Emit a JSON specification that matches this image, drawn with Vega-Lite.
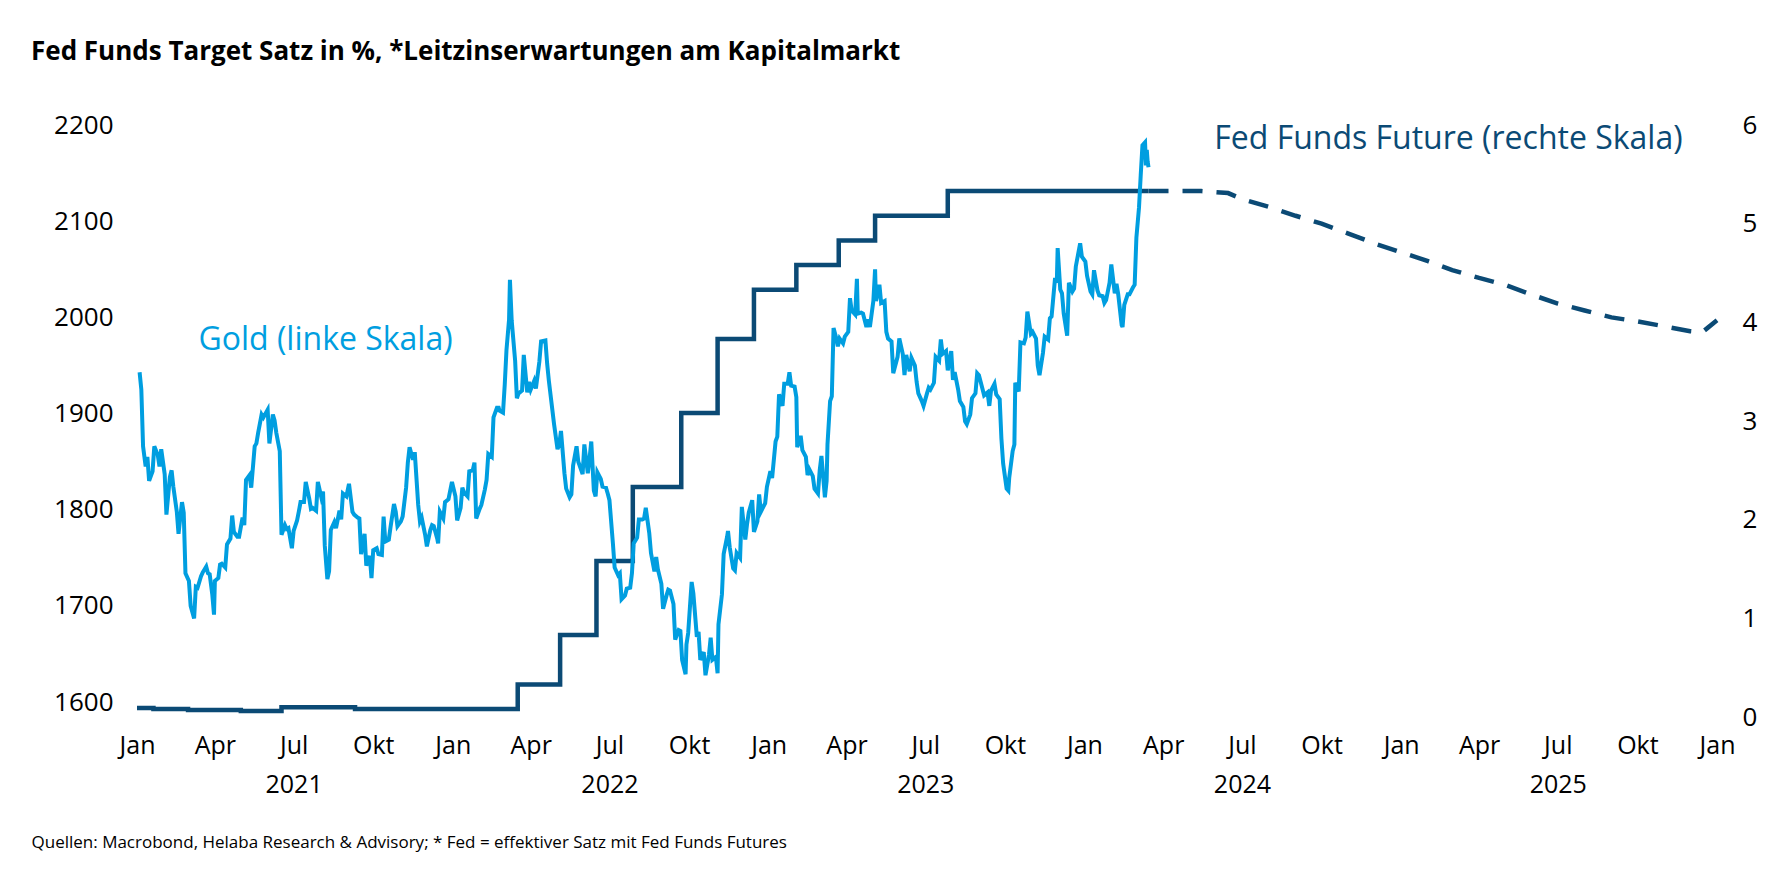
{
"$schema": "https://vega.github.io/schema/vega-lite/v6.json",
"width": 1580, "height": 592,
"autosize": {"type": "none"},
"padding": {"left": 137, "top": 125, "right": 65, "bottom": 152},
"background": "white",
"config": {"view": {"stroke": null}, "font": "Open Sans"},
"title": {"text": "Fed Funds Target Satz in %, *Leitzinserwartungen am Kapitalmarkt", "anchor": "start", "frame": "group", "dx": -106, "offset": 26, "baseline": "alphabetic", "fontSize": 26, "fontWeight": "bold", "color": "#000000", "font": "Open Sans"},
"datasets": {
"gold": [
{"date":"2021-01-04","value":1943},{"date":"2021-01-06","value":1925},{"date":"2021-01-08","value":1866},{"date":"2021-01-11","value":1845},{"date":"2021-01-13","value":1855},{"date":"2021-01-15","value":1830},{"date":"2021-01-19","value":1840},{"date":"2021-01-21","value":1866},{"date":"2021-01-25","value":1857},{"date":"2021-01-27","value":1845},{"date":"2021-01-29","value":1863},{"date":"2021-02-02","value":1837},{"date":"2021-02-04","value":1795},{"date":"2021-02-08","value":1834},{"date":"2021-02-10","value":1841},{"date":"2021-02-12","value":1824},{"date":"2021-02-16","value":1798},{"date":"2021-02-18","value":1775},{"date":"2021-02-22","value":1808},{"date":"2021-02-24","value":1797},{"date":"2021-02-26","value":1734},{"date":"2021-03-02","value":1726},{"date":"2021-03-04","value":1700},{"date":"2021-03-08","value":1687},{"date":"2021-03-10","value":1720},{"date":"2021-03-12","value":1719},{"date":"2021-03-16","value":1731},{"date":"2021-03-18","value":1735},{"date":"2021-03-22","value":1741},{"date":"2021-03-24","value":1734},{"date":"2021-03-26","value":1733},{"date":"2021-03-29","value":1712},{"date":"2021-03-31","value":1691},{"date":"2021-04-01","value":1726},{"date":"2021-04-05","value":1729},{"date":"2021-04-07","value":1743},{"date":"2021-04-09","value":1744},{"date":"2021-04-13","value":1740},{"date":"2021-04-15","value":1764},{"date":"2021-04-19","value":1770},{"date":"2021-04-21","value":1794},{"date":"2021-04-23","value":1777},{"date":"2021-04-27","value":1772},{"date":"2021-04-29","value":1772},{"date":"2021-05-03","value":1792},{"date":"2021-05-05","value":1784},{"date":"2021-05-07","value":1831},{"date":"2021-05-11","value":1836},{"date":"2021-05-13","value":1823},{"date":"2021-05-17","value":1866},{"date":"2021-05-19","value":1869},{"date":"2021-05-21","value":1880},{"date":"2021-05-25","value":1899},{"date":"2021-05-27","value":1896},{"date":"2021-06-01","value":1904},{"date":"2021-06-03","value":1869},{"date":"2021-06-07","value":1899},{"date":"2021-06-09","value":1893},{"date":"2021-06-11","value":1880},{"date":"2021-06-15","value":1861},{"date":"2021-06-17","value":1774},{"date":"2021-06-21","value":1784},{"date":"2021-06-23","value":1780},{"date":"2021-06-25","value":1781},{"date":"2021-06-29","value":1760},{"date":"2021-07-01","value":1778},{"date":"2021-07-05","value":1789},{"date":"2021-07-07","value":1798},{"date":"2021-07-09","value":1808},{"date":"2021-07-13","value":1808},{"date":"2021-07-15","value":1829},{"date":"2021-07-19","value":1812},{"date":"2021-07-21","value":1801},{"date":"2021-07-23","value":1802},{"date":"2021-07-27","value":1799},{"date":"2021-07-29","value":1829},{"date":"2021-08-02","value":1813},{"date":"2021-08-04","value":1819},{"date":"2021-08-06","value":1763},{"date":"2021-08-09","value":1728},{"date":"2021-08-11","value":1736},{"date":"2021-08-13","value":1779},{"date":"2021-08-17","value":1787},{"date":"2021-08-19","value":1781},{"date":"2021-08-23","value":1799},{"date":"2021-08-25","value":1790},{"date":"2021-08-27","value":1817},{"date":"2021-08-31","value":1814},{"date":"2021-09-03","value":1827},{"date":"2021-09-07","value":1798},{"date":"2021-09-09","value":1795},{"date":"2021-09-13","value":1792},{"date":"2021-09-15","value":1791},{"date":"2021-09-17","value":1754},{"date":"2021-09-21","value":1775},{"date":"2021-09-23","value":1742},{"date":"2021-09-27","value":1752},{"date":"2021-09-29","value":1729},{"date":"2021-10-01","value":1758},{"date":"2021-10-05","value":1760},{"date":"2021-10-07","value":1754},{"date":"2021-10-11","value":1753},{"date":"2021-10-13","value":1793},{"date":"2021-10-15","value":1767},{"date":"2021-10-19","value":1769},{"date":"2021-10-21","value":1782},{"date":"2021-10-25","value":1806},{"date":"2021-10-27","value":1798},{"date":"2021-10-29","value":1783},{"date":"2021-11-02","value":1788},{"date":"2021-11-04","value":1793},{"date":"2021-11-08","value":1823},{"date":"2021-11-10","value":1849},{"date":"2021-11-12","value":1865},{"date":"2021-11-16","value":1852},{"date":"2021-11-18","value":1860},{"date":"2021-11-22","value":1805},{"date":"2021-11-24","value":1788},{"date":"2021-11-26","value":1792},{"date":"2021-11-30","value":1774},{"date":"2021-12-02","value":1762},{"date":"2021-12-06","value":1779},{"date":"2021-12-08","value":1784},{"date":"2021-12-10","value":1783},{"date":"2021-12-14","value":1770},{"date":"2021-12-15","value":1765},{"date":"2021-12-17","value":1798},{"date":"2021-12-21","value":1791},{"date":"2021-12-23","value":1808},{"date":"2021-12-27","value":1811},{"date":"2021-12-31","value":1829},
{"date":"2022-01-04","value":1814},{"date":"2022-01-06","value":1789},{"date":"2022-01-10","value":1802},{"date":"2022-01-12","value":1823},{"date":"2022-01-14","value":1818},{"date":"2022-01-18","value":1814},{"date":"2022-01-20","value":1840},{"date":"2022-01-24","value":1841},{"date":"2022-01-26","value":1849},{"date":"2022-01-28","value":1791},{"date":"2022-02-01","value":1801},{"date":"2022-02-03","value":1805},{"date":"2022-02-07","value":1821},{"date":"2022-02-09","value":1831},{"date":"2022-02-11","value":1858},{"date":"2022-02-15","value":1855},{"date":"2022-02-17","value":1896},{"date":"2022-02-21","value":1906},{"date":"2022-02-23","value":1906},{"date":"2022-02-24","value":1903},{"date":"2022-02-28","value":1901},{"date":"2022-03-02","value":1930},{"date":"2022-03-04","value":1966},{"date":"2022-03-07","value":1998},{"date":"2022-03-08","value":2039},{"date":"2022-03-10","value":1997},{"date":"2022-03-14","value":1955},{"date":"2022-03-16","value":1916},{"date":"2022-03-18","value":1921},{"date":"2022-03-22","value":1924},{"date":"2022-03-24","value":1961},{"date":"2022-03-28","value":1922},{"date":"2022-03-30","value":1933},{"date":"2022-04-01","value":1925},{"date":"2022-04-05","value":1934},{"date":"2022-04-07","value":1926},{"date":"2022-04-11","value":1954},{"date":"2022-04-13","value":1975},{"date":"2022-04-18","value":1976},{"date":"2022-04-20","value":1952},{"date":"2022-04-22","value":1934},{"date":"2022-04-26","value":1904},{"date":"2022-04-28","value":1889},{"date":"2022-05-02","value":1863},{"date":"2022-05-04","value":1868},{"date":"2022-05-06","value":1882},{"date":"2022-05-10","value":1838},{"date":"2022-05-12","value":1822},{"date":"2022-05-16","value":1813},{"date":"2022-05-18","value":1816},{"date":"2022-05-20","value":1846},{"date":"2022-05-24","value":1866},{"date":"2022-05-26","value":1850},{"date":"2022-05-31","value":1837},{"date":"2022-06-02","value":1868},{"date":"2022-06-06","value":1838},{"date":"2022-06-08","value":1853},{"date":"2022-06-10","value":1871},{"date":"2022-06-13","value":1820},{"date":"2022-06-15","value":1814},{"date":"2022-06-17","value":1839},{"date":"2022-06-21","value":1832},{"date":"2022-06-23","value":1824},{"date":"2022-06-27","value":1823},{"date":"2022-06-29","value":1817},{"date":"2022-07-01","value":1810},{"date":"2022-07-05","value":1765},{"date":"2022-07-07","value":1740},{"date":"2022-07-11","value":1732},{"date":"2022-07-13","value":1734},{"date":"2022-07-15","value":1707},{"date":"2022-07-19","value":1711},{"date":"2022-07-21","value":1718},{"date":"2022-07-25","value":1719},{"date":"2022-07-27","value":1734},{"date":"2022-07-29","value":1765},{"date":"2022-08-02","value":1771},{"date":"2022-08-04","value":1790},{"date":"2022-08-08","value":1790},{"date":"2022-08-10","value":1791},{"date":"2022-08-12","value":1802},{"date":"2022-08-16","value":1776},{"date":"2022-08-18","value":1755},{"date":"2022-08-22","value":1736},{"date":"2022-08-24","value":1751},{"date":"2022-08-26","value":1738},{"date":"2022-08-30","value":1723},{"date":"2022-09-01","value":1697},{"date":"2022-09-05","value":1711},{"date":"2022-09-07","value":1717},{"date":"2022-09-09","value":1716},{"date":"2022-09-13","value":1702},{"date":"2022-09-15","value":1665},{"date":"2022-09-19","value":1675},{"date":"2022-09-21","value":1674},{"date":"2022-09-23","value":1644},{"date":"2022-09-27","value":1629},{"date":"2022-09-28","value":1660},{"date":"2022-09-30","value":1672},{"date":"2022-10-04","value":1725},{"date":"2022-10-06","value":1713},{"date":"2022-10-10","value":1668},{"date":"2022-10-12","value":1673},{"date":"2022-10-14","value":1644},{"date":"2022-10-18","value":1652},{"date":"2022-10-20","value":1628},{"date":"2022-10-24","value":1649},{"date":"2022-10-26","value":1667},{"date":"2022-10-28","value":1644},{"date":"2022-11-01","value":1647},{"date":"2022-11-03","value":1630},{"date":"2022-11-04","value":1681},{"date":"2022-11-08","value":1712},{"date":"2022-11-10","value":1754},{"date":"2022-11-14","value":1772},{"date":"2022-11-15","value":1778},{"date":"2022-11-17","value":1761},{"date":"2022-11-21","value":1739},{"date":"2022-11-23","value":1737},{"date":"2022-11-25","value":1755},{"date":"2022-11-29","value":1750},{"date":"2022-12-01","value":1803},{"date":"2022-12-05","value":1769},{"date":"2022-12-07","value":1785},{"date":"2022-12-09","value":1797},{"date":"2022-12-13","value":1810},{"date":"2022-12-15","value":1777},{"date":"2022-12-19","value":1788},{"date":"2022-12-21","value":1816},{"date":"2022-12-23","value":1798},{"date":"2022-12-28","value":1807},{"date":"2022-12-30","value":1824},
{"date":"2023-01-03","value":1840},{"date":"2023-01-05","value":1833},{"date":"2023-01-09","value":1871},{"date":"2023-01-11","value":1876},{"date":"2023-01-13","value":1920},{"date":"2023-01-17","value":1908},{"date":"2023-01-19","value":1931},{"date":"2023-01-23","value":1931},{"date":"2023-01-25","value":1943},{"date":"2023-01-27","value":1929},{"date":"2023-01-31","value":1928},{"date":"2023-02-02","value":1917},{"date":"2023-02-03","value":1865},{"date":"2023-02-07","value":1877},{"date":"2023-02-09","value":1862},{"date":"2023-02-13","value":1855},{"date":"2023-02-15","value":1836},{"date":"2023-02-17","value":1842},{"date":"2023-02-21","value":1835},{"date":"2023-02-23","value":1822},{"date":"2023-02-27","value":1817},{"date":"2023-03-01","value":1841},{"date":"2023-03-03","value":1856},{"date":"2023-03-07","value":1813},{"date":"2023-03-09","value":1830},{"date":"2023-03-10","value":1868},{"date":"2023-03-13","value":1913},{"date":"2023-03-15","value":1918},{"date":"2023-03-17","value":1989},{"date":"2023-03-20","value":1979},{"date":"2023-03-22","value":1970},{"date":"2023-03-24","value":1978},{"date":"2023-03-28","value":1973},{"date":"2023-03-30","value":1980},{"date":"2023-04-03","value":1985},{"date":"2023-04-05","value":2020},{"date":"2023-04-07","value":2007},{"date":"2023-04-11","value":2003},{"date":"2023-04-13","value":2040},{"date":"2023-04-14","value":2004},{"date":"2023-04-18","value":2005},{"date":"2023-04-20","value":2004},{"date":"2023-04-24","value":1990},{"date":"2023-04-26","value":1998},{"date":"2023-04-28","value":1990},{"date":"2023-05-02","value":2017},{"date":"2023-05-04","value":2050},{"date":"2023-05-05","value":2017},{"date":"2023-05-09","value":2034},{"date":"2023-05-11","value":2015},{"date":"2023-05-15","value":2017},{"date":"2023-05-17","value":1985},{"date":"2023-05-19","value":1978},{"date":"2023-05-23","value":1975},{"date":"2023-05-25","value":1942},{"date":"2023-05-30","value":1959},{"date":"2023-06-01","value":1978},{"date":"2023-06-05","value":1962},{"date":"2023-06-07","value":1940},{"date":"2023-06-09","value":1961},{"date":"2023-06-13","value":1944},{"date":"2023-06-15","value":1958},{"date":"2023-06-19","value":1950},{"date":"2023-06-21","value":1933},{"date":"2023-06-23","value":1921},{"date":"2023-06-27","value":1913},{"date":"2023-06-29","value":1908},{"date":"2023-07-03","value":1921},{"date":"2023-07-05","value":1927},{"date":"2023-07-07","value":1925},{"date":"2023-07-11","value":1932},{"date":"2023-07-13","value":1959},{"date":"2023-07-17","value":1955},{"date":"2023-07-19","value":1977},{"date":"2023-07-21","value":1962},{"date":"2023-07-25","value":1965},{"date":"2023-07-27","value":1945},{"date":"2023-07-31","value":1965},{"date":"2023-08-02","value":1935},{"date":"2023-08-04","value":1943},{"date":"2023-08-08","value":1925},{"date":"2023-08-10","value":1913},{"date":"2023-08-14","value":1907},{"date":"2023-08-16","value":1892},{"date":"2023-08-18","value":1889},{"date":"2023-08-22","value":1899},{"date":"2023-08-24","value":1916},{"date":"2023-08-28","value":1921},{"date":"2023-08-30","value":1942},{"date":"2023-09-01","value":1940},{"date":"2023-09-05","value":1926},{"date":"2023-09-07","value":1919},{"date":"2023-09-11","value":1922},{"date":"2023-09-13","value":1908},{"date":"2023-09-15","value":1924},{"date":"2023-09-19","value":1931},{"date":"2023-09-21","value":1920},{"date":"2023-09-25","value":1915},{"date":"2023-09-27","value":1874},{"date":"2023-09-29","value":1848},{"date":"2023-10-03","value":1822},{"date":"2023-10-05","value":1820},{"date":"2023-10-06","value":1833},{"date":"2023-10-10","value":1861},{"date":"2023-10-12","value":1868},{"date":"2023-10-13","value":1932},{"date":"2023-10-17","value":1923},{"date":"2023-10-19","value":1974},{"date":"2023-10-23","value":1973},{"date":"2023-10-25","value":1979},{"date":"2023-10-27","value":2006},{"date":"2023-10-31","value":1983},{"date":"2023-11-02","value":1985},{"date":"2023-11-06","value":1978},{"date":"2023-11-08","value":1950},{"date":"2023-11-10","value":1940},{"date":"2023-11-14","value":1963},{"date":"2023-11-16","value":1980},{"date":"2023-11-20","value":1977},{"date":"2023-11-22","value":1999},{"date":"2023-11-24","value":2001},{"date":"2023-11-28","value":2041},{"date":"2023-11-30","value":2036},{"date":"2023-12-01","value":2072},{"date":"2023-12-04","value":2029},{"date":"2023-12-06","value":2025},{"date":"2023-12-08","value":2004},{"date":"2023-12-12","value":1981},{"date":"2023-12-14","value":2036},{"date":"2023-12-18","value":2027},{"date":"2023-12-20","value":2030},{"date":"2023-12-22","value":2053},{"date":"2023-12-27","value":2077},{"date":"2023-12-29","value":2063},
{"date":"2024-01-02","value":2058},{"date":"2024-01-04","value":2043},{"date":"2024-01-08","value":2027},{"date":"2024-01-10","value":2024},{"date":"2024-01-12","value":2049},{"date":"2024-01-16","value":2028},{"date":"2024-01-18","value":2023},{"date":"2024-01-22","value":2022},{"date":"2024-01-24","value":2015},{"date":"2024-01-26","value":2018},{"date":"2024-01-30","value":2036},{"date":"2024-02-01","value":2055},{"date":"2024-02-05","value":2025},{"date":"2024-02-07","value":2035},{"date":"2024-02-09","value":2024},{"date":"2024-02-13","value":1992},{"date":"2024-02-14","value":1990},{"date":"2024-02-16","value":2013},{"date":"2024-02-20","value":2024},{"date":"2024-02-22","value":2024},{"date":"2024-02-26","value":2031},{"date":"2024-02-28","value":2034},{"date":"2024-03-01","value":2083},{"date":"2024-03-04","value":2114},{"date":"2024-03-06","value":2148},{"date":"2024-03-08","value":2179},{"date":"2024-03-11","value":2182},{"date":"2024-03-12","value":2158},{"date":"2024-03-13","value":2174},{"date":"2024-03-14","value":2162},{"date":"2024-03-15","value":2156}
],
"fed": [
{"date":"2021-01-01","value":0.09},{"date":"2021-01-20","value":0.08},{"date":"2021-03-01","value":0.07},{"date":"2021-05-01","value":0.06},{"date":"2021-06-17","value":0.10},{"date":"2021-08-15","value":0.10},{"date":"2021-09-10","value":0.08},{"date":"2022-03-17","value":0.33},{"date":"2022-05-05","value":0.83},{"date":"2022-06-16","value":1.58},{"date":"2022-07-28","value":2.33},{"date":"2022-09-22","value":3.08},{"date":"2022-11-03","value":3.83},{"date":"2022-12-15","value":4.33},{"date":"2023-02-02","value":4.58},{"date":"2023-03-23","value":4.83},{"date":"2023-05-04","value":5.08},{"date":"2023-07-27","value":5.33},{"date":"2024-03-15","value":5.33}
],
"future": [
{"date":"2024-03-15","value":5.33},{"date":"2024-04-15","value":5.33},{"date":"2024-05-15","value":5.33},{"date":"2024-06-15","value":5.31},{"date":"2024-07-01","value":5.25},{"date":"2024-08-01","value":5.17},{"date":"2024-09-01","value":5.08},{"date":"2024-10-01","value":5.0},{"date":"2024-11-01","value":4.9},{"date":"2024-12-01","value":4.8},{"date":"2025-01-01","value":4.71},{"date":"2025-02-01","value":4.62},{"date":"2025-03-01","value":4.53},{"date":"2025-04-01","value":4.45},{"date":"2025-05-01","value":4.38},{"date":"2025-06-01","value":4.28},{"date":"2025-07-01","value":4.19},{"date":"2025-08-01","value":4.12},{"date":"2025-09-01","value":4.05},{"date":"2025-10-01","value":4.01},{"date":"2025-11-01","value":3.96},{"date":"2025-12-01","value":3.91},{"date":"2025-12-15","value":3.9},{"date":"2026-01-01","value":4.02}
],
"goldlabel": [{"date":"2021-03-13","value":1976,"label":"Gold (linke Skala)"}],
"fedlabel": [{"date":"2024-05-30","value":5.86,"label":"Fed Funds Future (rechte Skala)"}]
},
"encoding": {
"x": {"field": "date", "type": "temporal",
 "scale": {"domain": [{"year": 2021, "month": 1, "date": 1}, {"year": 2026, "month": 1, "date": 1}]},
 "axis": {"title": "Quellen: Macrobond, Helaba Research & Advisory; * Fed = effektiver Satz mit Fed Funds Futures",
  "tickCount": {"interval": "month", "step": 3},
  "labelExpr": "month(datum.value)==0 ? 'Jan' : month(datum.value)==3 ? 'Apr' : month(datum.value)==6 ? ['Jul', toString(year(datum.value))] : 'Okt'",
  "ticks": false, "domain": false, "grid": false,
  "labelFontSize": 25, "labelPadding": 16, "labelLineHeight": 39, "labelColor": "#000000",
  "labelFlush": false, "labelOverlap": false, "labelBound": false,
  "titleX": -106, "titleY": 130, "titleAlign": "left", "titleAnchor": "start", "titleBaseline": "alphabetic",
  "titleFontSize": 17, "titleFontWeight": "normal", "titleColor": "#000000"}}
},
"layer": [
{
 "encoding": {"y": {"field": "value", "type": "quantitative",
  "scale": {"domain": [0, 6], "nice": false, "zero": false},
  "axis": {"orient": "right", "values": [0, 1, 2, 3, 4, 5, 6], "format": "d", "title": null, "ticks": false, "domain": false, "grid": false,
   "labelFontSize": 26, "labelPadding": 25, "labelColor": "#000000", "labelFlush": false, "labelOverlap": false}}},
 "layer": [
  {"data": {"name": "fed"}, "mark": {"type": "line", "interpolate": "step-after", "color": "#0B4A75", "strokeWidth": 4.5}},
  {"data": {"name": "future"}, "mark": {"type": "line", "color": "#0B4A75", "strokeWidth": 4.5, "strokeDash": [20, 14]}},
  {"data": {"name": "fedlabel"}, "mark": {"type": "text", "align": "left", "baseline": "middle", "fontSize": 32, "color": "#0B4A75"},
   "encoding": {"text": {"field": "label"}}}
 ]
},
{
 "encoding": {"y": {"field": "value", "type": "quantitative",
  "scale": {"domain": [1584.6, 2200], "nice": false, "zero": false},
  "axis": {"orient": "left", "values": [1600, 1700, 1800, 1900, 2000, 2100, 2200], "format": "d", "title": null, "ticks": false, "domain": false, "grid": false,
   "labelFontSize": 26, "labelPadding": 24, "labelColor": "#000000", "labelFlush": false, "labelOverlap": false}}},
 "layer": [
  {"data": {"name": "gold"}, "mark": {"type": "line", "color": "#009EE0", "strokeWidth": 4}},
  {"data": {"name": "goldlabel"}, "mark": {"type": "text", "align": "left", "baseline": "middle", "fontSize": 32, "color": "#009EE0"},
   "encoding": {"text": {"field": "label"}}}
 ]
}
],
"resolve": {"scale": {"y": "independent"}}
}
